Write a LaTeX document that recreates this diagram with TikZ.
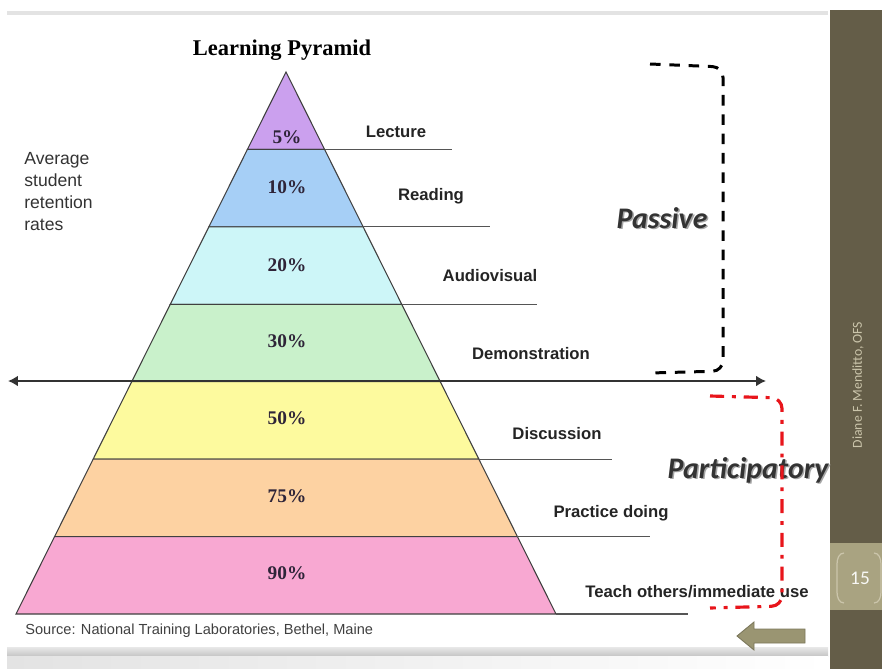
\documentclass[tikz,border=0pt]{standalone}
\usepackage{fontspec}
\setmainfont{Liberation Serif}
\setsansfont{Liberation Sans}
\newfontfamily\calibri{Carlito}
\usetikzlibrary{arrows.meta,calc,positioning}
\definecolor{lyrfive}{HTML}{CBA0EE}
\definecolor{lyrten}{HTML}{A6CFF6}
\definecolor{lyrtwenty}{HTML}{CDF6F8}
\definecolor{lyrthirty}{HTML}{C9F1CB}
\definecolor{lyrfifty}{HTML}{FDFA9E}
\definecolor{lyrsevfive}{HTML}{FDD2A2}
\definecolor{lyrninety}{HTML}{F8A8D2}
\definecolor{pctcol}{HTML}{2E2438}
\definecolor{olivedark}{HTML}{645D48}
\definecolor{olivelight}{HTML}{A9A381}
\definecolor{oliveback}{HTML}{9A9572}
\definecolor{sidetext}{HTML}{CBC5AB}
\definecolor{partred}{HTML}{E8151B}
\tikzset{
layer/.style={
  draw={rgb:black,3;white,1},
  line width=0.6pt,
  }
}
\tikzset{
tagline/.style={
  draw={rgb:black,2;white,1},
  line width=0.6pt,
  }
}
\tikzset{
pct/.style={
  font=\bfseries\fontsize{11}{13}\selectfont,
  text=pctcol,
  inner sep=0pt,
  }
}
\tikzset{
method/.style={
  font=\sffamily\bfseries\fontsize{9.5}{11}\selectfont,
  text={rgb:black,6;white,1},
  inner sep=0pt,
  }
}
\tikzset{
bigline/.style={
  line width=1.7pt,
  draw={rgb:black,4;white,1},
  {Latex[length=2mm,width=2.2mm]}-{Latex[length=2mm,width=2.2mm]}
  }
}
\tikzset{
modetxt/.style={
  font=\calibri\bfseries\itshape\fontsize{17}{20}\selectfont,
  inner sep=0pt,
  }
}

\begin{document}
\begin{tikzpicture}[x=0.02cm,y=-0.02cm]
    \useasboundingbox (0,0) rectangle (882,669);
    % slide frame
    \fill[gray!22] (7,11) rectangle (828,15);
    \shade[top color=gray!18, bottom color=gray!45] (7,647) rectangle (828,656);
    \shade[left color=gray!22, right color=white] (7,656) rectangle (828,669);
    \fill[olivedark] (830,10) rectangle (882,669);
    \fill[olivelight] (830,543) rectangle (882,610);
    \node[rotate=90, text=sidetext, font=\calibri\fontsize{7.8}{9}\selectfont] (author) at (858,385) {Diane F. Menditto, OFS};
    \node[text=white!92!olivelight, font=\calibri\fontsize{11}{13}\selectfont] (pageno) at (860,578) {15};
    \draw[sidetext, line width=0.7pt] (844,553) to[out=180,in=90] (837,564) -- (837,592) to[out=-90,in=180] (844,603);
    \draw[sidetext, line width=0.7pt] (874,553) to[out=0,in=90] (881,564) -- (881,592) to[out=-90,in=0] (874,603);
    \draw[fill=oliveback, draw=oliveback!80!black, line width=0.5pt] (737,636) -- (754,622) -- (754,629) -- (805,629) -- (805,643) -- (754,643) -- (754,650) -- cycle;

    % pyramid
    \coordinate (apex) at (286,72);
    \coordinate (l7) at (16,614);
    \coordinate (r7) at (556,614);
    \coordinate (l1) at ($(apex)!1/7!(l7)$);
    \coordinate (l2) at ($(apex)!2/7!(l7)$);
    \coordinate (l3) at ($(apex)!3/7!(l7)$);
    \coordinate (l4) at ($(apex)!4/7!(l7)$);
    \coordinate (l5) at ($(apex)!5/7!(l7)$);
    \coordinate (l6) at ($(apex)!6/7!(l7)$);
    \coordinate (r1) at ($(apex)!1/7!(r7)$);
    \coordinate (r2) at ($(apex)!2/7!(r7)$);
    \coordinate (r3) at ($(apex)!3/7!(r7)$);
    \coordinate (r4) at ($(apex)!4/7!(r7)$);
    \coordinate (r5) at ($(apex)!5/7!(r7)$);
    \coordinate (r6) at ($(apex)!6/7!(r7)$);
    \draw[layer, fill=lyrfive] (apex) -- (l1) -- (r1) -- cycle;
    \draw[layer, fill=lyrten] (l1) -- (l2) -- (r2) -- (r1) -- cycle;
    \draw[layer, fill=lyrtwenty] (l2) -- (l3) -- (r3) -- (r2) -- cycle;
    \draw[layer, fill=lyrthirty] (l3) -- (l4) -- (r4) -- (r3) -- cycle;
    \draw[layer, fill=lyrfifty] (l4) -- (l5) -- (r5) -- (r4) -- cycle;
    \draw[layer, fill=lyrsevfive] (l5) -- (l6) -- (r6) -- (r5) -- cycle;
    \draw[layer, fill=lyrninety] (l6) -- (l7) -- (r7) -- (r6) -- cycle;

    \node[pct] (p5) at (287,137) {5\%};
    \node[pct] (p10) at (287,187) {10\%};
    \node[pct] (p20) at (287,265) {20\%};
    \node[pct] (p30) at (287,341) {30\%};
    \node[pct] (p50) at (287,418) {50\%};
    \node[pct] (p75) at (287,496) {75\%};
    \node[pct] (p90) at (287,573) {90\%};

    % label lines
    \coordinate (e1) at ($(r1)+(127,0)$);
    \coordinate (e2) at ($(r2)+(127,0)$);
    \coordinate (e3) at ($(r3)+(135,0)$);
    \coordinate (e5) at ($(r5)+(133,0)$);
    \coordinate (e6) at ($(r6)+(133,0)$);
    \coordinate (e7) at ($(r7)+(132,0)$);
    \draw[tagline] (r1) -- (e1);
    \draw[tagline] (r2) -- (e2);
    \draw[tagline] (r3) -- (e3);
    \draw[tagline] (r5) -- (e5);
    \draw[tagline] (r6) -- (e6);
    \draw[tagline] (r7) -- (e7);
    \coordinate (west) at (8,381);
    \coordinate (east) at (766,381);
    \draw[bigline] (west) -- (east);

    \node[method] (lecture) at (396,132) {Lecture};
    \node[method] (reading) at (431,196) {Reading};
    \node[method] (audio) at (490,276) {Audiovisual};
    \node[method] (demo) at (531,354) {Demonstration};
    \node[method] (discuss) at (557,434) {Discussion};
    \node[method] (practice) at (611,513) {Practice doing};
    \node[method] (teach) at (697,592) {Teach others/immediate use};

    \node[font=\bfseries\fontsize{12.8}{15}\selectfont] (title) at (282,50) {Learning Pyramid};
    \node[anchor=north west, align=left, inner sep=0pt, font=\sffamily\fontsize{10}{12.5}\selectfont, text={rgb:black,4;white,1}] (avg) at (24,152) {Average\\student\\retention\\rates};
    \node[anchor=west, inner sep=0pt, font=\sffamily\fontsize{8.3}{10}\selectfont, text={rgb:black,3;white,1}] (source) at (25,631) {Source: National Training Laboratories, Bethel, Maine};

    % passive / participatory
    \node[modetxt, text=gray!70] (passsh) at (663.5,219.5) {Passive};
    \node[modetxt, text={rgb:black,4;white,1}] (passive) at (662,218) {Passive};
    \node[modetxt, text=gray!70] (partsh) at (749.5,471.5) {Participatory};
    \node[modetxt, text={rgb:black,4;white,1}] (partic) at (748,470) {Participatory};
    \draw[line width=1.7pt, dash pattern=on 6pt off 5pt, rounded corners=6] (650,64) -- (723,67) -- (723,371) -- (650,373);
    \draw[partred, line width=1.8pt, dash pattern=on 8pt off 4.5pt on 2.2pt off 4.5pt, rounded corners=6] (710,396) -- (782,398) -- (782,606) -- (710,608);
\end{tikzpicture}
\end{document}
